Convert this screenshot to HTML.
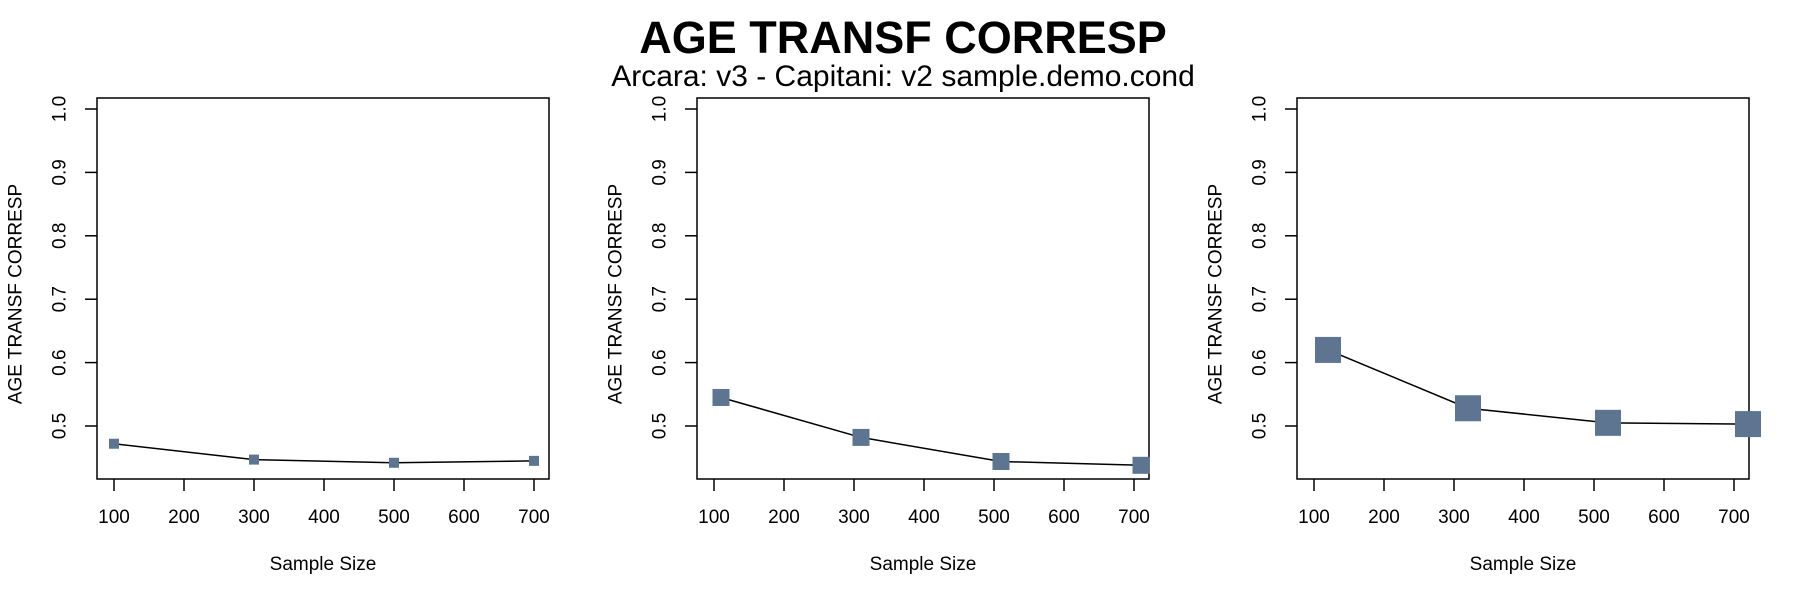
<!DOCTYPE html>
<html><head><meta charset="utf-8"><style>
body{margin:0;background:#fff}
svg{display:block;font-family:"Liberation Sans",Arial,sans-serif}
</style></head><body>
<svg id="chart" width="1800" height="600" viewBox="0 0 1800 600">
<text x="903" y="53" text-anchor="middle" font-size="45" font-weight="bold">AGE TRANSF CORRESP</text>
<text x="903" y="86" text-anchor="middle" font-size="30">Arcara: v3 - Capitani: v2 sample.demo.cond</text>
</svg>
<script>
const xTicks = [100,200,300,400,500,600,700];
const yTicks = [0.5,0.6,0.7,0.8,0.9,1.0];
const xs1 = [100,300,500,700];
const ys1 = [0.472,0.447,0.442,0.445];
const xs2 = [110,310,510,710];
const ys2 = [0.545,0.482,0.444,0.438];
const xs3 = [120,320,520,720];
const ys3 = [0.62,0.528,0.505,0.503];
const series = [[xs1,ys1,10],[xs2,ys2,17],[xs3,ys3,26]];
const lefts = [97,697,1297];
const NS='http://www.w3.org/2000/svg';
const svg=document.getElementById('chart');
function mk(t,a){const e=document.createElementNS(NS,t);for(const k in a)e.setAttribute(k,a[k]);svg.appendChild(e);return e;}
series.forEach((s,i)=>{
  const L=lefts[i], W=452, T=98, B=479;
  const xf=v=>L+17+(v-100)*0.70;
  const yf=v=>426-(v-0.5)*634;
  const box=mk('rect',{x:L,y:T,width:W,height:B-T,fill:'none',stroke:'#000','stroke-width':1.5});
  
  
  xTicks.forEach(t=>{
    const x=xf(t);
    const l=mk('line',{x1:x,y1:B,x2:x,y2:B+12,stroke:'#000','stroke-width':1.5});
    
    
    const tx=mk('text',{x:x,y:B+44,'text-anchor':'middle','font-size':19});
    tx.textContent=t;
    
    
  });
  yTicks.forEach(t=>{
    const y=yf(t);
    const l=mk('line',{x1:L,y1:y,x2:L-12,y2:y,stroke:'#000','stroke-width':1.5});
    
    
    const tx=mk('text',{x:L-37,y:y,'text-anchor':'middle','font-size':19,transform:`rotate(-90 ${L-37} ${y})`,'dominant-baseline':'central'});
    tx.textContent=t.toFixed(1);
    
    
  });
  const xl=mk('text',{x:L+W/2,y:570,'text-anchor':'middle','font-size':19});
  xl.textContent='Sample Size';
  
  
  const yx=L-81, yy=294;
  const yl=mk('text',{x:yx,y:yy,'text-anchor':'middle','font-size':19,transform:`rotate(-90 ${yx} ${yy})`,'dominant-baseline':'central'});
  yl.textContent='AGE TRANSF CORRESP';
  
  
  const pts=s[0].map((v,j)=>xf(v)+','+yf(s[1][j])).join(' ');
  const pl=mk('polyline',{points:pts,fill:'none',stroke:'#000','stroke-width':1.5});
  
  
  const sz=s[2];
  s[0].forEach((v,j)=>{
    const r=mk('rect',{x:xf(v)-sz/2,y:yf(s[1][j])-sz/2,width:sz,height:sz,fill:'#5d7590'});
    
    
  });
});
</script>
</body></html>
